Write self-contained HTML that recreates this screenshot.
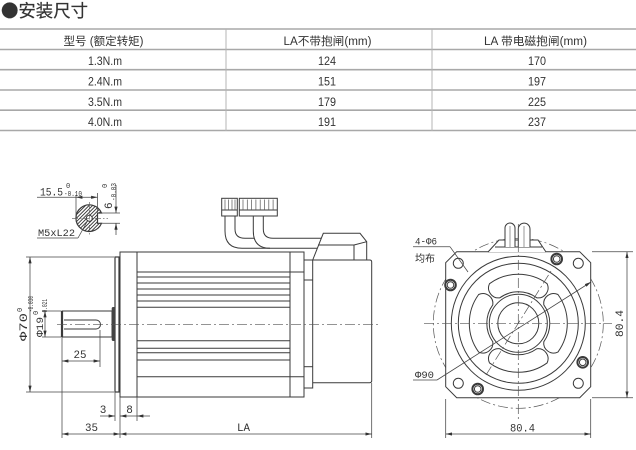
<!DOCTYPE html>
<html><head><meta charset="utf-8">
<style>
html,body{margin:0;padding:0;background:#fff;}
svg{display:block;}
text{font-family:"Liberation Sans","Noto Sans CJK SC",sans-serif;fill:#333;}
.m{font-family:"Liberation Mono","Liberation Sans",monospace;}
</style></head><body>
<svg width="636" height="450" viewBox="0 0 636 450" xmlns="http://www.w3.org/2000/svg">
<defs>
<marker id="a" viewBox="0 0 8 4" refX="8" refY="2" markerWidth="6.5" markerHeight="3.2" orient="auto-start-reverse" markerUnits="userSpaceOnUse"><path d="M0,0 L8,2 L0,4 Z" fill="#333"/></marker>
<clipPath id="kc"><path d="M101.5,213 A13.3,13.3 0 1 0 101.5,223.3 L97.5,223.3 L97.5,213 Z"/></clipPath>
</defs>

<!-- Title -->
<text x="1" y="17" font-size="17.5" font-family="'Noto Sans CJK SC',sans-serif" textLength="87" lengthAdjust="spacingAndGlyphs" style="font-family:'Noto Sans CJK SC',sans-serif;" stroke="#333" stroke-width="0.2">●安装尺寸</text>

<!-- Table -->
<g stroke="#a8a8a8" stroke-width="1.6">
<line x1="0" y1="29" x2="636" y2="29"/>
<line x1="0" y1="49.5" x2="636" y2="49.5"/>
<line x1="0" y1="69.7" x2="636" y2="69.7"/>
<line x1="0" y1="90" x2="636" y2="90"/>
<line x1="0" y1="110.2" x2="636" y2="110.2"/>
<line x1="0" y1="130.5" x2="636" y2="130.5"/>
</g>
<g stroke="#b5b5b5" stroke-width="1">
<line x1="226" y1="29" x2="226" y2="131"/>
<line x1="432" y1="29" x2="432" y2="131"/>
</g>
<g font-size="11.5" text-anchor="middle">
<text x="103.5" y="45" textLength="80" lengthAdjust="spacingAndGlyphs">型号 (额定转矩)</text>
<text x="327.5" y="45" textLength="88" lengthAdjust="spacingAndGlyphs">LA不带抱闸(mm)</text>
<text x="535.5" y="45" textLength="103" lengthAdjust="spacingAndGlyphs">LA 带电磁抱闸(mm)</text>
<text x="105" y="65" textLength="34" lengthAdjust="spacingAndGlyphs">1.3N.m</text>
<text x="105" y="85.5" textLength="34" lengthAdjust="spacingAndGlyphs">2.4N.m</text>
<text x="105" y="105.8" textLength="34" lengthAdjust="spacingAndGlyphs">3.5N.m</text>
<text x="105" y="126" textLength="34" lengthAdjust="spacingAndGlyphs">4.0N.m</text>
<text x="327" y="65" textLength="18" lengthAdjust="spacingAndGlyphs">124</text>
<text x="327" y="85.5" textLength="18" lengthAdjust="spacingAndGlyphs">151</text>
<text x="327" y="105.8" textLength="18" lengthAdjust="spacingAndGlyphs">179</text>
<text x="327" y="126" textLength="18" lengthAdjust="spacingAndGlyphs">191</text>
<text x="537" y="65" textLength="18" lengthAdjust="spacingAndGlyphs">170</text>
<text x="537" y="85.5" textLength="18" lengthAdjust="spacingAndGlyphs">197</text>
<text x="537" y="105.8" textLength="18" lengthAdjust="spacingAndGlyphs">225</text>
<text x="537" y="126" textLength="18" lengthAdjust="spacingAndGlyphs">237</text>
</g>

<!-- ===== Left side view ===== -->
<g stroke="#3a3a3a" stroke-width="1" fill="none">
<rect x="120" y="252" width="184" height="145"/>
<line x1="137" y1="252" x2="137" y2="397"/>
<line x1="290" y1="252" x2="290" y2="397"/>
<line x1="137" y1="272" x2="304" y2="272"/>
<line x1="137" y1="277" x2="290" y2="277"/>
<line x1="137" y1="283" x2="290" y2="283"/>
<line x1="137" y1="289" x2="290" y2="289"/>
<line x1="137" y1="295" x2="290" y2="295"/>
<line x1="137" y1="301" x2="290" y2="301"/>
<line x1="137" y1="307.3" x2="290" y2="307.3"/>
<line x1="137" y1="340.7" x2="290" y2="340.7"/>
<line x1="137" y1="348.3" x2="290" y2="348.3"/>
<line x1="137" y1="352.8" x2="290" y2="352.8"/>
<line x1="137" y1="360" x2="290" y2="360"/>
<line x1="137" y1="376.7" x2="304" y2="376.7"/>
<rect x="115" y="257" width="4" height="135" stroke-width="1.2" fill="#fff"/>
<rect x="62" y="311" width="50" height="26" fill="#fff"/>
<line x1="62" y1="311" x2="62" y2="337" stroke-width="2.2"/>
<path d="M64,320 H96 A4.5,4.5 0 0 1 96,329 H64"/>
<rect x="304" y="260" width="8.7" height="128"/>
<line x1="304" y1="280" x2="312.7" y2="280"/>
<line x1="304" y1="366.7" x2="312.7" y2="366.7"/>
<path d="M312.7,260 H369.7 Q371.7,260 371.7,262 V380.7 Q371.7,382.7 369.7,382.7 H312.7"/>
<path d="M312.7,260 L323.3,233.3 H360 L366.7,241.7 V260"/>
<path d="M318,245 H354 V260 M354,245 L366.7,241.7"/>
<path d="M225,216 V231 Q225,248.3 242,248.3 H317.3"/>
<path d="M235,216 V229 Q235,238.3 245,238.3 H254"/>
<path d="M253.3,216 V231 Q253.3,248.3 270,248.3"/>
<path d="M263.3,216 V229 Q263.3,238.3 273,238.3 H321.3"/>
<rect x="221.7" y="198.3" width="15.6" height="17.7" fill="#fff"/>
<line x1="221.7" y1="210" x2="237.3" y2="210"/>
<rect x="239.3" y="198.3" width="38" height="17.7" fill="#fff"/>
<line x1="239.3" y1="210" x2="277.3" y2="210"/>
</g>
<g stroke="#555" stroke-width="0.7">
<line x1="225" y1="199.5" x2="225" y2="210"/><line x1="228.5" y1="199.5" x2="228.5" y2="210"/>
<line x1="232" y1="199.5" x2="232" y2="210"/><line x1="235" y1="199.5" x2="235" y2="210"/>
<line x1="243" y1="199.5" x2="243" y2="210"/><line x1="247.3" y1="199.5" x2="247.3" y2="210"/>
<line x1="251.6" y1="199.5" x2="251.6" y2="210"/><line x1="255.9" y1="199.5" x2="255.9" y2="210"/>
<line x1="260.2" y1="199.5" x2="260.2" y2="210"/><line x1="264.5" y1="199.5" x2="264.5" y2="210"/>
<line x1="268.8" y1="199.5" x2="268.8" y2="210"/><line x1="273.1" y1="199.5" x2="273.1" y2="210"/>
</g>
<rect x="111.7" y="307" width="3.6" height="34" rx="1.5" fill="#444"/>
<line x1="57" y1="324.3" x2="378" y2="324.3" stroke="#555" stroke-width="0.7" stroke-dasharray="10 3 2 3"/>

<!-- left dimensions -->
<g stroke="#444" stroke-width="0.75" fill="none">
<line x1="26" y1="257" x2="114" y2="257"/>
<line x1="26" y1="392" x2="114" y2="392"/>
<line x1="30" y1="257" x2="30" y2="392" marker-start="url(#a)" marker-end="url(#a)"/>
<line x1="42" y1="311" x2="61" y2="311"/>
<line x1="42" y1="337" x2="61" y2="337"/>
<line x1="45" y1="311" x2="45" y2="337" marker-start="url(#a)" marker-end="url(#a)"/>
<line x1="62" y1="337" x2="62" y2="438"/>
<line x1="100" y1="330" x2="100" y2="367"/>
<line x1="62" y1="361" x2="100" y2="361" marker-start="url(#a)" marker-end="url(#a)"/>
<line x1="115" y1="392" x2="115" y2="421"/>
<line x1="120" y1="397" x2="120" y2="438"/>
<line x1="137" y1="397" x2="137" y2="421"/>
<line x1="100" y1="416" x2="115" y2="416" marker-end="url(#a)"/>
<line x1="137" y1="416" x2="120" y2="416" marker-end="url(#a)"/>
<line x1="150" y1="416" x2="137" y2="416" marker-end="url(#a)"/>
<line x1="62" y1="434" x2="120" y2="434" marker-start="url(#a)" marker-end="url(#a)"/>
<line x1="120" y1="434" x2="371.7" y2="434" marker-start="url(#a)" marker-end="url(#a)"/>
<line x1="371.7" y1="383" x2="371.7" y2="438"/>
</g>
<g class="m" font-size="11">
<g transform="translate(27,341) rotate(-90)">
<text class="m" x="0" y="0" font-size="11" textLength="28" lengthAdjust="spacingAndGlyphs">Φ70</text>
<text class="m" x="29" y="-5" font-size="7">0</text>
<text class="m" x="29" y="6" font-size="7" textLength="16" lengthAdjust="spacingAndGlyphs">-0.030</text>
</g>
<g transform="translate(43,337) rotate(-90)">
<text class="m" x="0" y="0" font-size="10.5" textLength="20" lengthAdjust="spacingAndGlyphs">Φ19</text>
<text class="m" x="22" y="-5" font-size="7">0</text>
<text class="m" x="22" y="4" font-size="7" textLength="16" lengthAdjust="spacingAndGlyphs">-0.021</text>
</g>
<text class="m" x="80" y="358" text-anchor="middle" font-size="11" textLength="13" lengthAdjust="spacingAndGlyphs">25</text>
<text class="m" x="103" y="413" text-anchor="middle" font-size="11">3</text>
<text class="m" x="129.5" y="413" text-anchor="middle" font-size="11">8</text>
<text class="m" x="91.5" y="431" text-anchor="middle" font-size="11" textLength="13" lengthAdjust="spacingAndGlyphs">35</text>
<text class="m" x="243.5" y="431" text-anchor="middle" font-size="11" textLength="13" lengthAdjust="spacingAndGlyphs">LA</text>
</g>

<!-- keyway section view -->
<g clip-path="url(#kc)" stroke="#333" stroke-width="0.9">
<line x1="49.3" y1="238.3" x2="89.3" y2="198.3"/>
<line x1="52.8" y1="238.3" x2="92.8" y2="198.3"/>
<line x1="56.3" y1="238.3" x2="96.3" y2="198.3"/>
<line x1="59.8" y1="238.3" x2="99.8" y2="198.3"/>
<line x1="63.3" y1="238.3" x2="103.3" y2="198.3"/>
<line x1="66.8" y1="238.3" x2="106.8" y2="198.3"/>
<line x1="70.3" y1="238.3" x2="110.3" y2="198.3"/>
<line x1="73.8" y1="238.3" x2="113.8" y2="198.3"/>
<line x1="77.3" y1="238.3" x2="117.3" y2="198.3"/>
<line x1="80.8" y1="238.3" x2="120.8" y2="198.3"/>
<line x1="84.3" y1="238.3" x2="124.3" y2="198.3"/>
<line x1="87.8" y1="238.3" x2="127.8" y2="198.3"/>
<line x1="91.3" y1="238.3" x2="131.3" y2="198.3"/>
</g>
<g stroke="#3a3a3a" fill="none">
<path d="M101.5,213 A13.3,13.3 0 1 0 101.5,223.3 L97.5,223.3 L97.5,213 Z" stroke-width="1.2"/>
<circle cx="89.3" cy="218.3" r="3" fill="#fff" stroke-width="1"/>
</g>
<g stroke="#555" stroke-width="0.6" stroke-dasharray="6 2 1.5 2">
<line x1="72" y1="218.3" x2="108" y2="218.3"/>
<line x1="89.3" y1="202" x2="89.3" y2="235"/>
</g>
<g stroke="#444" stroke-width="0.75" fill="none">
<line x1="37" y1="197.3" x2="76" y2="197.3"/>
<line x1="76" y1="197.3" x2="97.5" y2="197.3" marker-start="url(#a)" marker-end="url(#a)"/>
<line x1="76" y1="195" x2="76" y2="216"/>
<line x1="97.5" y1="193" x2="97.5" y2="212"/>
<line x1="100" y1="213" x2="120" y2="213"/>
<line x1="100" y1="223.3" x2="120" y2="223.3"/>
<line x1="116" y1="185" x2="116" y2="213" marker-end="url(#a)"/>
<line x1="116" y1="235" x2="116" y2="223.3" marker-end="url(#a)"/>
<line x1="37" y1="238" x2="78" y2="238"/>
<line x1="78" y1="238" x2="88" y2="220"/>
</g>
<text class="m" x="40" y="195.5" font-size="11" textLength="23" lengthAdjust="spacingAndGlyphs">15.5</text>
<text class="m" x="66" y="188" font-size="7">0</text>
<text class="m" x="64" y="196" font-size="7" textLength="18" lengthAdjust="spacingAndGlyphs">-0.10</text>
<g transform="translate(112,209) rotate(-90)">
<text class="m" x="0" y="0" font-size="11">6</text>
<text class="m" x="21" y="-5" font-size="7">0</text>
<text class="m" x="8" y="4" font-size="7" textLength="18" lengthAdjust="spacingAndGlyphs">-0.03</text>
</g>
<text class="m" x="38" y="236" font-size="10" textLength="37" lengthAdjust="spacingAndGlyphs">M5xL22</text>

<!-- ===== Right end view ===== -->
<circle cx="518.3" cy="323.3" r="85" fill="none" stroke="#555" stroke-width="0.7" stroke-dasharray="10 3 2 3"/>
<g stroke="#3a3a3a" stroke-width="1" fill="none">
<path d="M456.7,251.7 H579.7 L590.7,262.7 V386.7 L579.7,397.7 H456.7 L445.7,386.7 V262.7 Z" fill="#fff"/>
<circle cx="518.3" cy="323.3" r="67"/>
<circle cx="518.3" cy="323.3" r="60"/>
<circle cx="518.3" cy="323.3" r="29"/>
<circle cx="518.3" cy="323.3" r="20.5"/>
<path d="M489.5,283.66 A49,49 0 0 1 547.1,283.66 A10,10 0 0 1 536.82,297.82 A31.5,31.5 0 0 0 499.78,297.82 A10,10 0 0 1 489.5,283.66 Z"/>
<path d="M489.5,283.66 A49,49 0 0 1 547.1,283.66 A10,10 0 0 1 536.82,297.82 A31.5,31.5 0 0 0 499.78,297.82 A10,10 0 0 1 489.5,283.66 Z" transform="rotate(90 518.3 323.3)"/>
<path d="M489.5,283.66 A49,49 0 0 1 547.1,283.66 A10,10 0 0 1 536.82,297.82 A31.5,31.5 0 0 0 499.78,297.82 A10,10 0 0 1 489.5,283.66 Z" transform="rotate(180 518.3 323.3)"/>
<path d="M489.5,283.66 A49,49 0 0 1 547.1,283.66 A10,10 0 0 1 536.82,297.82 A31.5,31.5 0 0 0 499.78,297.82 A10,10 0 0 1 489.5,283.66 Z" transform="rotate(270 518.3 323.3)"/>
<circle cx="458.3" cy="263.3" r="5"/>
<circle cx="578.3" cy="263.3" r="5"/>
<circle cx="458.3" cy="383.3" r="5"/>
<circle cx="578.3" cy="383.3" r="5"/>
<circle cx="556.7" cy="259" r="5.3" stroke-width="2" fill="#fff"/>
<circle cx="556.7" cy="259" r="3.3"/>
<circle cx="450.5" cy="285" r="5.3" stroke-width="2" fill="#fff"/>
<circle cx="450.5" cy="285" r="3.3"/>
<circle cx="582.7" cy="362.3" r="5.3" stroke-width="2" fill="#fff"/>
<circle cx="582.7" cy="362.3" r="3.3"/>
<circle cx="477.7" cy="389" r="5.3" stroke-width="2" fill="#fff"/>
<circle cx="477.7" cy="389" r="3.3"/>
<path d="M488,252 L499,240 H538 L546,252" fill="#fff"/>
<line x1="495" y1="247" x2="542" y2="247"/>
<path d="M505,247 V228 A5,5 0 0 1 515,228 V247" fill="#fff"/>
<path d="M518.3,247 V229 A5.8,5.8 0 0 1 530,229 V247" fill="#fff"/>
</g>
<g stroke="#555" stroke-width="0.6">
<line x1="510" y1="226" x2="510" y2="247"/>
<line x1="524" y1="226" x2="524" y2="247"/>
</g>
<g stroke="#555" stroke-width="0.7" stroke-dasharray="10 3 2 3" fill="none">
<line x1="424" y1="323.3" x2="612" y2="323.3"/>
<line x1="518.3" y1="224" x2="518.3" y2="420"/>
<line x1="486" y1="375" x2="551" y2="271"/>
</g>
<g stroke="#444" stroke-width="0.75" fill="none">
<line x1="413" y1="246.7" x2="450" y2="246.7"/>
<line x1="450" y1="246.7" x2="468" y2="272"/>
<line x1="413" y1="380" x2="437" y2="380"/>
<line x1="437" y1="380" x2="591" y2="282" marker-end="url(#a)"/>
<line x1="592" y1="251.7" x2="633" y2="251.7"/>
<line x1="592" y1="397.7" x2="633" y2="397.7"/>
<line x1="627" y1="251.7" x2="627" y2="397.7" marker-start="url(#a)" marker-end="url(#a)"/>
<line x1="445.7" y1="399" x2="445.7" y2="438"/>
<line x1="590.7" y1="399" x2="590.7" y2="438"/>
<line x1="445.7" y1="434" x2="590.7" y2="434" marker-start="url(#a)" marker-end="url(#a)"/>
</g>
<text class="m" x="415" y="244.5" font-size="10" textLength="22" lengthAdjust="spacingAndGlyphs">4-Φ6</text>
<text x="415" y="262" font-size="10" font-family="'Liberation Sans','Noto Sans CJK SC',sans-serif">均布</text>
<text class="m" x="415" y="378" font-size="10" textLength="19" lengthAdjust="spacingAndGlyphs">Φ90</text>
<text class="m" x="522.5" y="431.5" font-size="11" text-anchor="middle" textLength="25" lengthAdjust="spacingAndGlyphs">80.4</text>
<g transform="translate(623,337) rotate(-90)">
<text class="m" x="0" y="0" font-size="11" textLength="27" lengthAdjust="spacingAndGlyphs">80.4</text>
</g>
</svg>
</body></html>
